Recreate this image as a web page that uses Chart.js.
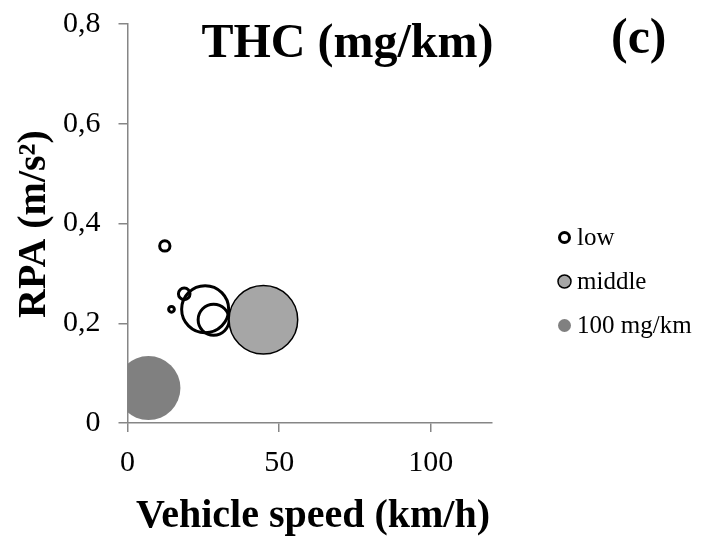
<!DOCTYPE html>
<html>
<head>
<meta charset="utf-8">
<script src="https://cdn.jsdelivr.net/npm/chart.js@4.4.1/dist/chart.umd.min.js"></script>
<style>
  html, body { margin: 0; padding: 0; background: #ffffff; }
  canvas { display: block; }
</style>
</head>
<body>
<canvas id="c" width="703" height="538"></canvas>
<script>
// ---- data ----
const chartTitle = "THC (mg/km)";
const panelLabel = "(c)";
const xAxisTitle = "Vehicle speed (km/h)";
const yAxisTitle = "RPA (m/s\u00B2)";
const seriesNames = ["low", "middle", "100 mg/km"];

// low series: vehicle speed (km/h), RPA (m/s2), THC (mg/km)
const lowSpeed = [12.3, 18.7, 14.5, 25.6, 28.4];
const lowRPA   = [0.355, 0.259, 0.228, 0.228, 0.207];
const lowTHC   = [2.6, 3.3, 0.8, 54, 23.5];

// middle series
const midSpeed = [44.8];
const midRPA   = [0.207];
const midTHC   = [115];

// reference bubble (100 mg/km)
const refSpeed = [6.9];
const refRPA   = [0.070];
const refTHC   = [100];

const xTicks = [0, 50, 100];
const yTicks = [0, 0.2, 0.4, 0.6, 0.8];
const xMax = 120, yMax = 0.8;

// ---- build chart ----
const REF_RADIUS = 32; // px radius of a 100 mg/km bubble
const toPoints = (xs, ys, vs) => xs.map((x, i) => ({ x: x, y: ys[i], r: REF_RADIUS * Math.sqrt(vs[i] / 100) }));

const FONT = '"Liberation Serif", "Times New Roman", serif';
Chart.defaults.font.family = FONT;
Chart.defaults.color = '#000000';

const AXIS = '#868686';

const overlay = {
  id: 'overlay',
  afterDraw(chart) {
    const ctx = chart.ctx;
    ctx.save();
    ctx.fillStyle = '#000000';
    ctx.textBaseline = 'alphabetic';
    // chart title
    ctx.font = 'bold 48px ' + FONT;
    ctx.textAlign = 'center';
    ctx.fillText(chartTitle, 347.5, 56.5);
    // panel label
    ctx.font = 'bold 50px ' + FONT;
    ctx.textAlign = 'left';
    ctx.fillText(panelLabel, 611, 53);
    // x axis title
    ctx.font = 'bold 40px ' + FONT;
    ctx.textAlign = 'center';
    ctx.fillText(xAxisTitle, 313, 527);
    // y axis title
    ctx.save();
    ctx.translate(45, 224);
    ctx.rotate(-Math.PI / 2);
    ctx.fillText(yAxisTitle, 0, 0);
    ctx.restore();

    // legend
    const lx = 564.5, ly = [237.5, 281.5, 325.5];
    ctx.font = '25px ' + FONT;
    ctx.textAlign = 'left';
    ctx.textBaseline = 'middle';
    chart.data.datasets.forEach((ds, i) => {
      ctx.beginPath();
      ctx.arc(lx, ly[i], i === 0 ? 5 : 6.5, 0, Math.PI * 2);
      ctx.fillStyle = ds.backgroundColor;
      ctx.fill();
      if (ds.borderWidth > 0) {
        ctx.lineWidth = ds.borderWidth;
        ctx.strokeStyle = ds.borderColor;
        ctx.stroke();
      }
      ctx.fillStyle = '#000000';
      ctx.fillText(ds.label, 577, ly[i] + 1);
    });
    ctx.restore();
  }
};

new Chart(document.getElementById('c'), {
  type: 'bubble',
  data: {
    datasets: [
      { label: seriesNames[0], data: toPoints(lowSpeed, lowRPA, lowTHC),
        backgroundColor: 'rgba(255,255,255,0)', borderColor: '#000000', borderWidth: 3, order: 3, clip: 0 },
      { label: seriesNames[1], data: toPoints(midSpeed, midRPA, midTHC),
        backgroundColor: '#a6a6a6', borderColor: '#000000', borderWidth: 1.5, order: 2, clip: 0 },
      { label: seriesNames[2], data: toPoints(refSpeed, refRPA, refTHC),
        backgroundColor: '#808080', borderColor: '#808080', borderWidth: 0, order: 1, clip: 0 }
    ]
  },
  options: {
    responsive: false,
    animation: false,
    devicePixelRatio: 1,
    events: [],
    layout: { autoPadding: false, padding: { top: 24, right: 211.5, bottom: 0, left: 0 } },
    plugins: { legend: { display: false }, tooltip: { enabled: false }, title: { display: false } },
    scales: {
      x: {
        type: 'linear', position: 'bottom', min: 0, max: xMax,
        afterBuildTicks: (s) => { s.ticks = xTicks.map(v => ({ value: v })); },
        afterFit: (s) => { s.height = 115; s.paddingLeft = 0; s.paddingRight = 0; },
        grid: { drawOnChartArea: false, drawTicks: true, tickLength: 9, color: AXIS, lineWidth: 1.5 },
        border: { display: true, color: AXIS, width: 1.5 },
        ticks: { font: { size: 30 }, color: '#000000', padding: 13, maxRotation: 0,
                 callback: (v) => String(v) }
      },
      y: {
        type: 'linear', position: 'left', min: 0, max: yMax,
        afterBuildTicks: (s) => { s.ticks = yTicks.map(v => ({ value: v })); },
        afterFit: (s) => { s.width = 127.5; s.paddingTop = 0; s.paddingBottom = 0; },
        grid: { drawOnChartArea: false, drawTicks: true, tickLength: 9, color: AXIS, lineWidth: 1.5 },
        border: { display: true, color: AXIS, width: 1.5 },
        ticks: { font: { size: 30 }, color: '#000000', padding: 18,
                 callback: (v) => v === 0 ? '0' : v.toFixed(1).replace('.', ',') }
      }
    }
  },
  plugins: [overlay]
});
</script>
</body>
</html>
